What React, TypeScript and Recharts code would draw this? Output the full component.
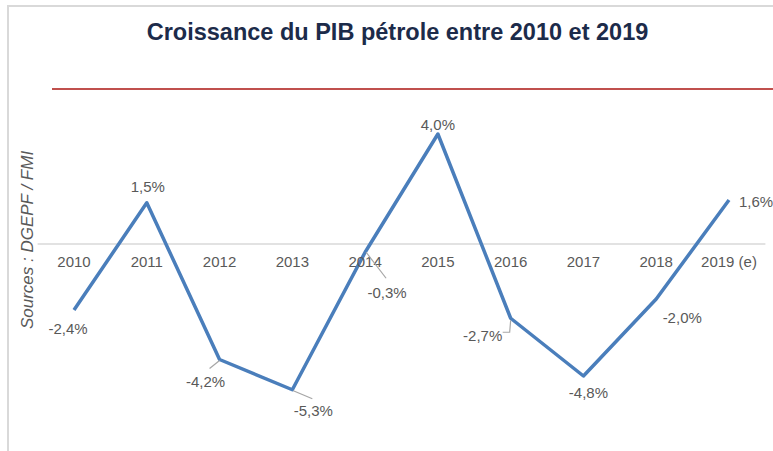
import React from 'react';
import { LineChart, Line, XAxis, YAxis, CartesianGrid, LabelList } from 'recharts';

// Croissance du PIB pétrole (%), source DGEPF / FMI
const years = ['2010', '2011', '2012', '2013', '2014', '2015', '2016', '2017', '2018', '2019 (e)'];
const growth = [-2.4, 1.5, -4.2, -5.3, -0.3, 4.0, -2.7, -4.8, -2.0, 1.6];
const baseline = [0, 0, 0, 0, 0, 0, 0, 0, 0, 0];

// where each value label sits relative to its point, plus optional leader line
const labelOffsets: { dx: number; dy: number; leader?: number[][] }[] = [
    { dx: -6, dy: 18 },
    { dx: 1, dy: -16 },
    { dx: -14, dy: 22, leader: [[0, 1], [-10, 9]] },
    { dx: 21, dy: 21, leader: [[1, 1], [20, 9]] },
    { dx: 22, dy: 40, leader: [[1, 0], [21, 26]] },
    { dx: 0, dy: -10 },
    { dx: -28, dy: 17, leader: [[0, 2], [-1, 14], [-8, 14]] },
    { dx: 5, dy: 16 },
    { dx: 26, dy: 18 },
    { dx: 27, dy: 1 },
];

const chartData = years.map((year, i) => ({ year, pib: growth[i], zero: baseline[i] }));

const fmt = (v: number) => v.toFixed(1).replace('.', ',') + '%';

const TEXT = '#595959';
const FONT = '"Liberation Sans", Arial, sans-serif';

const ValueLabel = (props: any) => {
    const { x, y, value, index } = props;
    const o = labelOffsets[index];
    return (
        <g>
            {o.leader && (
                <polyline
                    points={o.leader.map((p) => `${x + p[0]},${y + p[1]}`).join(' ')}
                    fill="none"
                    stroke="#a6a6a6"
                    strokeWidth={1.2}
                />
            )}
            <text
                x={x + o.dx}
                y={y + o.dy}
                textAnchor="middle"
                dominantBaseline="central"
                fontSize={15}
                fill={TEXT}
                fontFamily={FONT}
            >
                {fmt(value)}
            </text>
        </g>
    );
};

const YearLabel = (props: any) => {
    const { x, y, value } = props;
    return (
        <text x={x} y={y + 23} textAnchor="middle" fontSize={15} fill={TEXT} fontFamily={FONT}>
            {value}
        </text>
    );
};

export default function App() {
    return (
        <div style={{ position: 'absolute', left: 0, top: 0, width: 773, height: 451, background: '#fff', overflow: 'hidden', fontFamily: FONT }}>
            {/* cadre */}
            <div style={{ position: 'absolute', left: 7, top: 5, width: 800, height: 500, borderLeft: '2px solid #d9d9d9', borderTop: '2px solid #d9d9d9' }} />
            <div style={{ position: 'absolute', left: 0, top: 19, width: 795, textAlign: 'center', fontSize: 23.5, fontWeight: 'bold', color: '#1c2b4a' }}>
                Croissance du PIB pétrole entre 2010 et 2019
            </div>
            <div style={{ position: 'absolute', left: 52, top: 88, width: 730, height: 2, background: '#c0504d' }} />
            <div
                style={{
                    position: 'absolute',
                    left: 28,
                    top: 240,
                    transform: 'translate(-50%, -50%) rotate(-90deg)',
                    whiteSpace: 'nowrap',
                    fontSize: 17,
                    fontStyle: 'italic',
                    color: TEXT,
                }}
            >
                Sources : DGEPF / FMI
            </div>
            <LineChart
                width={773}
                height={451}
                data={chartData}
                margin={{ top: 106.5, right: 7.6, bottom: 42, left: 37.6 }}
                style={{ position: 'absolute', left: 0, top: 0 }}
            >
                <CartesianGrid vertical={false} horizontalValues={[0]} stroke="#d9d9d9" strokeWidth={1.5} />
                <XAxis dataKey="year" hide padding={{ left: 36.4, right: 36.4 }} />
                <YAxis domain={[-6, 5]} hide />
                <Line dataKey="zero" stroke="none" dot={false} isAnimationActive={false}>
                    <LabelList dataKey="year" content={YearLabel} />
                </Line>
                <Line
                    dataKey="pib"
                    stroke="#4a7ebb"
                    strokeWidth={3.5}
                    dot={false}
                    strokeLinejoin="round"
                    isAnimationActive={false}
                >
                    <LabelList dataKey="pib" content={ValueLabel} />
                </Line>
            </LineChart>
        </div>
    );
}
